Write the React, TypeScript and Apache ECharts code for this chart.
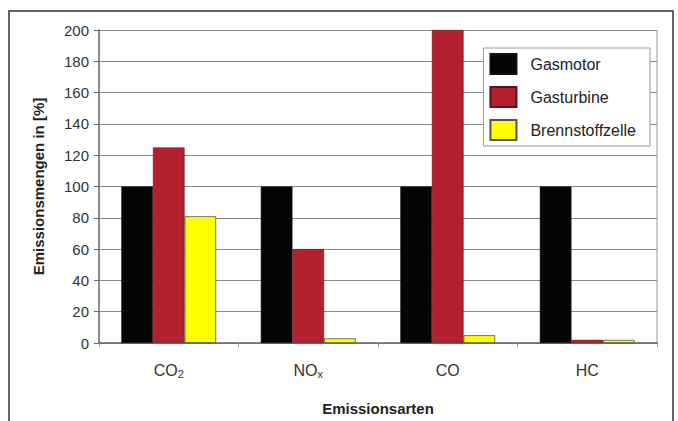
import React, { useEffect, useRef } from "react";
import * as echarts from "echarts";

const categories = ["CO2", "NOx", "CO", "HC"];
const subscripts = ["2", "x", "", ""];
const gasmotor = [100, 100, 100, 100];
const gasturbine = [125, 60, 200, 2];
const brennstoffzelle = [81, 3, 5, 2];
const yTicks = { min: 0, max: 200, interval: 20 };

export default function App() {
  const ref = useRef<HTMLDivElement>(null);
  useEffect(() => {
    const chart = echarts.init(ref.current!, null, { renderer: "svg" });
    const font = "Liberation Sans, Arial, sans-serif";
    const barBase = { type: "bar" as const, barGap: "0%", barCategoryGap: "32%" };
    chart.setOption({
      animation: false,
      backgroundColor: "#fff",
      textStyle: { fontFamily: font },
      grid: { left: 99, right: 21, top: 30, bottom: 77 },
      legend: {
        orient: "vertical",
        right: 28,
        top: 48,
        itemWidth: 26,
        itemHeight: 20,
        itemGap: 11,
        padding: [5, 14, 5, 6],
        borderColor: "#999",
        borderWidth: 1,
        backgroundColor: "#fff",
        icon: "rect",
        textStyle: { fontSize: 16, color: "#222", fontFamily: font, padding: [0, 0, 0, 9] },
        data: ["Gasmotor", "Gasturbine", "Brennstoffzelle"],
      },
      xAxis: {
        type: "category",
        data: categories,
        name: "Emissionsarten",
        nameLocation: "middle",
        nameGap: 58,
        nameTextStyle: { fontSize: 15, fontWeight: "bold", color: "#222", fontFamily: font },
        axisLine: { lineStyle: { color: "#666", width: 1.5 } },
        axisTick: { show: true, length: 4, lineStyle: { color: "#999" } },
        axisLabel: {
          margin: 18,
          color: "#333",
          fontSize: 15,
          fontFamily: font,
          formatter: (v: string, i: number) => {
            const s = subscripts[i];
            if (s) return `{m|${v.slice(0, v.length - 1)}}{s|${s}}`;
            return `{m|${v}}`;
          },
          rich: {
            m: { fontSize: 16, color: "#333", fontFamily: font, lineHeight: 18 },
            s: { fontSize: 11, color: "#333", fontFamily: font, lineHeight: 18, verticalAlign: "bottom", padding: [8, 0, 0, 0] },
          },
        },
      },
      yAxis: {
        type: "value",
        min: yTicks.min,
        max: yTicks.max,
        interval: yTicks.interval,
        name: "Emissionsmengen in [%]",
        nameLocation: "middle",
        nameGap: 53,
        nameTextStyle: { fontSize: 15, fontWeight: "bold", color: "#222", fontFamily: font },
        axisLine: { show: true, lineStyle: { color: "#666", width: 1.5 } },
        axisTick: { show: true, length: 5, lineStyle: { color: "#666" } },
        axisLabel: { margin: 10, color: "#333", fontSize: 15, fontFamily: font },
        splitLine: { show: true, lineStyle: { color: "#8a8a8a", width: 1.2 } },
      },
      graphic: [
        {
          type: "rect",
          shape: { x: 9, y: 11, width: 664, height: 440 },
          style: { fill: "none", stroke: "#333", lineWidth: 1.5 },
          silent: true,
        },
        {
          type: "line",
          shape: { x1: 657, y1: 30, x2: 657, y2: 344 },
          style: { stroke: "#999", lineWidth: 1 },
          silent: true,
        },
      ],
      series: [
        { ...barBase, name: "Gasmotor", data: gasmotor, itemStyle: { color: "#050505", borderColor: "#111", borderWidth: 0.5 } },
        { ...barBase, name: "Gasturbine", data: gasturbine, itemStyle: { color: "#b3202e", borderColor: "#5a1015", borderWidth: 0.5 } },
        { ...barBase, name: "Brennstoffzelle", data: brennstoffzelle, itemStyle: { color: "#ffff00", borderColor: "#555", borderWidth: 0.8 } },
      ],
    });
    return () => chart.dispose();
  }, []);
  return (
    <div
      ref={ref}
      style={{ position: "fixed", left: 0, top: 0, width: 678, height: 421, background: "#fff" }}
    />
  );
}
